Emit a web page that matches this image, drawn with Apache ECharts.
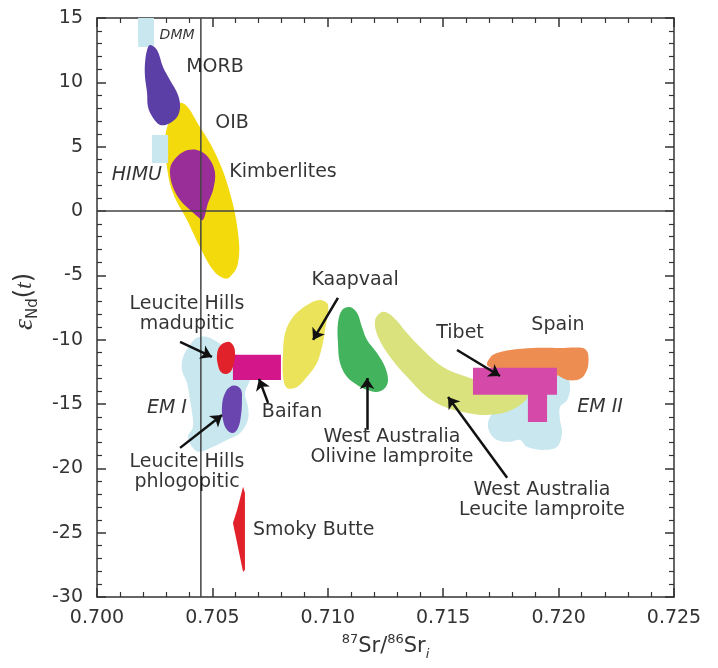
<!DOCTYPE html>
<html>
<head>
<meta charset="utf-8">
<script src="https://cdn.jsdelivr.net/npm/echarts@6/dist/echarts.min.js"></script>
<style>
  html, body { margin: 0; padding: 0; background: #fff; }
  #chart { width: 718px; height: 668px; }
</style>
</head>
<body>
<div id="chart"></div>
<script>
// axis ranges and ticks
var xTicks = [0.700, 0.705, 0.710, 0.715, 0.720, 0.725];
var yTicks = [-30, -25, -20, -15, -10, -5, 0, 5, 10, 15];
var refX = 0.7045;   // vertical reference line
var refY = 0;        // horizontal reference line

// field outlines, [87Sr/86Sr, eNd]
var dmm = [[0.70178, 15], [0.70247, 15], [0.70247, 12.75], [0.70178, 12.75]];
var himu = [[0.70238, 5.91], [0.70308, 5.91], [0.70308, 3.73], [0.70238, 3.73]];
var morb = [[0.70230, 12.90], [0.70260, 12.51], [0.70286, 11.19], [0.70316, 10.18], [0.70351, 9.02],
  [0.70360, 8.08], [0.70347, 7.31], [0.70308, 6.76], [0.70273, 6.69], [0.70243, 7.23], [0.70221, 8.08],
  [0.70217, 9.17], [0.70208, 10.42], [0.70208, 11.50], [0.70217, 12.51]];
var oib = [[0.70368, 8.40], [0.70446, 6.53], [0.70520, 4.20], [0.70576, 1.40], [0.70611, -1.71],
  [0.70611, -4.04], [0.70576, -5.12], [0.70546, -5.20], [0.70503, -4.58], [0.70446, -2.79],
  [0.70390, -0.70], [0.70329, 1.40], [0.70303, 3.42], [0.70295, 5.52], [0.70316, 7.07]];
var kimberlites = [[0.70325, 3.73], [0.70373, 4.59], [0.70433, 4.74], [0.70481, 4.20], [0.70511, 3.03],
  [0.70503, 1.64], [0.70481, 0.63], [0.70459, -0.70], [0.70438, -0.46], [0.70403, 0.08],
  [0.70360, 0.86], [0.70329, 1.87], [0.70316, 2.96]];
var em1 = [[0.70433, -9.86], [0.70477, -9.79], [0.70520, -10.17], [0.70589, -11.03], [0.70650, -11.57],
  [0.70676, -12.12], [0.70663, -13.13], [0.70641, -14.14], [0.70654, -15.23], [0.70654, -16.24],
  [0.70620, -17.25], [0.70563, -17.79], [0.70503, -18.33], [0.70446, -18.72], [0.70416, -18.41],
  [0.70394, -17.56], [0.70416, -16.78], [0.70412, -15.69], [0.70403, -14.68], [0.70390, -13.36],
  [0.70368, -12.35], [0.70373, -11.34], [0.70403, -10.41]];
var em2 = [[0.71993, -12.51], [0.72037, -12.89], [0.72050, -13.67], [0.72037, -14.68], [0.72006, -15.23],
  [0.72006, -16.24], [0.72015, -17.25], [0.71993, -18.33], [0.71932, -18.57], [0.71863, -18.33],
  [0.71833, -17.79], [0.71790, -17.94], [0.71733, -17.79], [0.71703, -17.25], [0.71694, -16.47],
  [0.71716, -15.69], [0.71759, -15.46], [0.71833, -14.68], [0.71919, -13.13]];
var madupitic = [[0.70568, -10.17], [0.70589, -10.41], [0.70598, -10.95], [0.70594, -11.73],
  [0.70581, -12.43], [0.70559, -12.66], [0.70537, -12.51], [0.70524, -11.96], [0.70520, -11.18],
  [0.70533, -10.49]];
var phlogopitic = [[0.70602, -13.59], [0.70624, -13.90], [0.70628, -14.68], [0.70624, -15.85],
  [0.70611, -16.86], [0.70589, -17.25], [0.70563, -17.01], [0.70546, -16.24], [0.70542, -15.07],
  [0.70555, -14.14], [0.70576, -13.67]];
var baifan = [[0.70589, -11.18], [0.70797, -11.18], [0.70797, -13.13], [0.70589, -13.13]];
var smokyButte = [[0.70633, -21.44], [0.70641, -21.91], [0.70641, -27.89], [0.70633, -28.05],
  [0.70589, -24.24], [0.70607, -23.23]];
var kaapvaal = [[0.70815, -9.48], [0.70849, -8.23], [0.70910, -7.30], [0.70966, -6.91], [0.71001, -7.30],
  [0.70988, -9.24], [0.70975, -10.56], [0.70953, -11.81], [0.70910, -12.89], [0.70867, -13.67],
  [0.70823, -13.75], [0.70806, -12.89], [0.70806, -11.03]];
var waOlivine = [[0.71062, -7.69], [0.71096, -7.46], [0.71127, -7.92], [0.71148, -9.01], [0.71170, -10.02],
  [0.71213, -11.03], [0.71248, -12.12], [0.71261, -13.13], [0.71248, -13.75], [0.71213, -14.06],
  [0.71170, -13.90], [0.71127, -13.52], [0.71083, -12.89], [0.71053, -11.81], [0.71044, -10.25],
  [0.71044, -8.70]];
var waLeucite = [[0.71205, -8.47], [0.71239, -7.84], [0.71283, -8.23], [0.71343, -9.48], [0.71413, -10.80],
  [0.71499, -12.12], [0.71616, -12.97], [0.71863, -14.29], [0.71846, -14.91], [0.71777, -15.61],
  [0.71690, -15.85], [0.71603, -15.69], [0.71517, -15.30], [0.71430, -14.45], [0.71343, -12.89],
  [0.71270, -11.34], [0.71218, -9.79]];
var spain = [[0.71690, -11.96], [0.71716, -11.18], [0.71790, -10.80], [0.71889, -10.64], [0.72006, -10.64],
  [0.72106, -10.64], [0.72127, -11.03], [0.72127, -12.12], [0.72106, -12.89], [0.72080, -13.13],
  [0.72037, -13.13], [0.71993, -12.74], [0.71919, -12.35], [0.71746, -12.35]];
var tibet = [[0.71629, -12.19], [0.71993, -12.19], [0.71993, -14.29], [0.71950, -14.29],
  [0.71950, -16.39], [0.71867, -16.39], [0.71867, -14.29], [0.71629, -14.29]];

// text labels
var labelText = ['DMM', 'MORB', 'OIB', 'Kimberlites', 'HIMU', 'Leucite Hills\nmadupitic', 'EM I',
  'Leucite Hills\nphlogopitic', 'Smoky Butte', 'Baifan', 'Kaapvaal', 'West Australia\nOlivine lamproite',
  'Tibet', 'Spain', 'EM II', 'West Australia\nLeucite lamproite'];
var labelAt = [[0.70347, 13.68], [0.70511, 11.19], [0.70585, 6.84], [0.70806, 3.03], [0.70173, 2.80],
  [0.70390, -8.0], [0.70303, -15.30], [0.70390, -20.28], [0.70676, -24.78], [0.70845, -15.61],
  [0.71118, -5.36], [0.71278, -18.33], [0.71573, -9.48], [0.71997, -8.85], [0.72180, -15.23],
  [0.71928, -22.45]];

// arrows, tail -> head
var arrows = [
  [[0.70360, -10.17], [0.70498, -11.34]],
  [[0.70741, -14.91], [0.70702, -13.05]],
  [[0.70360, -18.41], [0.70542, -15.85]],
  [[0.71044, -6.76], [0.70936, -10.02]],
  [[0.71170, -17.01], [0.71170, -12.97]],
  [[0.71560, -10.80], [0.71746, -12.82]],
  [[0.71777, -20.74], [0.71521, -14.45]]
];

function field(pts, color, smooth) {
  return {
    type: 'custom',
    silent: true,
    clip: true,
    data: pts,
    renderItem: function (params, api) {
      if (params.dataIndex !== 0) return null;
      return {
        type: 'polygon',
        shape: { points: pts.map(function (p) { return api.coord(p); }), smooth: smooth },
        style: { fill: color }
      };
    }
  };
}

function refLine(pts) {
  return {
    type: 'line',
    silent: true,
    symbol: 'none',
    z: 3,
    lineStyle: { color: '#444', width: 1.5 },
    data: pts
  };
}

var lightBlue = '#c8e7ee';
var fieldSeries = [
  field(dmm, lightBlue, 0),
  field(em1, lightBlue, 0.35),
  field(em2, lightBlue, 0.35),
  field(oib, '#f3da0c', 0.4),
  field(himu, lightBlue, 0),
  field(morb, '#5b3fa6', 0.35),
  field(kimberlites, '#9a2e98', 0.35),
  field(kaapvaal, '#ebe35a', 0.35),
  field(waOlivine, '#43b35d', 0.35),
  field(waLeucite, '#d9e27c', 0.35),
  field(spain, '#ee8d52', 0.3),
  field(tibet, '#d54aa8', 0),
  field(baifan, '#d3178b', 0),
  field(madupitic, '#e2222b', 0.4),
  field(phlogopitic, '#6a45b0', 0.4),
  field(smokyButte, '#e2222b', 0)
];

var italic = { 'DMM': 1, 'HIMU': 1, 'EM I': 1, 'EM II': 1 };
var labelData = labelText.map(function (t, i) {
  var it = {
    value: labelAt[i],
    name: t,
    label: { fontStyle: italic[t] ? 'italic' : 'normal' }
  };
  if (t === 'DMM') it.label.fontSize = 14;
  if (t === 'Smoky Butte') it.label.align = 'left';
  return it;
});

var axisCommon = {
  type: 'value',
  splitLine: { show: false },
  axisLine: { show: true, onZero: false, lineStyle: { color: '#333', width: 1.5 } },
  axisTick: { show: true, inside: true, length: 9, lineStyle: { color: '#333', width: 1.5 } },
  minorTick: { show: true, splitNumber: 5, length: 5, lineStyle: { color: '#333', width: 1.2 } }
};

var option = {
  animation: false,
  backgroundColor: '#fff',
  grid: { left: 97, right: 44, top: 18, bottom: 71, containLabel: false },
  xAxis: [
    Object.assign({}, axisCommon, {
      position: 'bottom', min: xTicks[0], max: xTicks[xTicks.length - 1], interval: 0.005,
      axisLabel: {
        color: '#333', fontSize: 19, fontFamily: 'DejaVu Sans', margin: 12,
        formatter: function (v) { return v.toFixed(3); }
      },
      name: '{sup|87}{n|Sr/}{sup|86}{n|Sr}{sub|i}',
      nameLocation: 'middle',
      nameGap: 30,
      nameTextStyle: {
        rich: {
          n: { fontSize: 21, fontFamily: 'DejaVu Sans', color: '#333', lineHeight: 28 },
          sup: { fontSize: 13, fontFamily: 'DejaVu Sans', color: '#333', verticalAlign: 'top', lineHeight: 28 },
          sub: { fontSize: 13, fontFamily: 'DejaVu Sans', fontStyle: 'italic', color: '#333', verticalAlign: 'bottom', lineHeight: 28 }
        }
      }
    }),
    Object.assign({}, axisCommon, {
      position: 'top', min: xTicks[0], max: xTicks[xTicks.length - 1], interval: 0.005,
      axisLabel: { show: false }
    })
  ],
  yAxis: [
    Object.assign({}, axisCommon, {
      position: 'left', min: yTicks[0], max: yTicks[yTicks.length - 1], interval: 5,
      axisLabel: { color: '#333', fontSize: 19, fontFamily: 'DejaVu Sans', margin: 14 },
      name: '{e|ε}{s|Nd}{p|(}{t|t}{p|)}',
      nameLocation: 'middle',
      nameRotate: 90,
      nameGap: 40,
      nameTextStyle: {
        padding: [0, 0, 0, 12],
        rich: {
          e: { fontSize: 28, fontFamily: 'Liberation Serif', fontStyle: 'italic', color: '#333', lineHeight: 32 },
          s: { fontSize: 15, fontFamily: 'DejaVu Sans', color: '#333', verticalAlign: 'bottom', lineHeight: 32 },
          p: { fontSize: 24, fontFamily: 'DejaVu Sans', color: '#333', lineHeight: 32 },
          t: { fontSize: 24, fontFamily: 'Liberation Serif', fontStyle: 'italic', color: '#333', lineHeight: 32 }
        }
      }
    }),
    Object.assign({}, axisCommon, {
      position: 'right', min: yTicks[0], max: yTicks[yTicks.length - 1], interval: 5,
      axisLabel: { show: false }
    })
  ],
  series: fieldSeries.concat([
    refLine([[refX, yTicks[0]], [refX, yTicks[yTicks.length - 1]]]),
    refLine([[xTicks[0], refY], [xTicks[xTicks.length - 1], refY]]),
    {
      type: 'lines',
      coordinateSystem: 'cartesian2d',
      silent: true,
      z: 4,
      symbol: ['none', 'arrow'],
      symbolSize: 11,
      lineStyle: { color: '#111', width: 2.5, opacity: 1 },
      data: arrows.map(function (a) { return { coords: a }; })
    },
    {
      type: 'scatter',
      silent: true,
      z: 5,
      symbolSize: 0,
      data: labelData,
      label: {
        show: true,
        position: 'inside',
        formatter: '{b}',
        color: '#000',
        fontSize: 19,
        lineHeight: 20,
        fontFamily: 'DejaVu Sans'
      }
    }
  ])
};

var chart = echarts.init(document.getElementById('chart'));
chart.setOption(option);
</script>
</body>
</html>
